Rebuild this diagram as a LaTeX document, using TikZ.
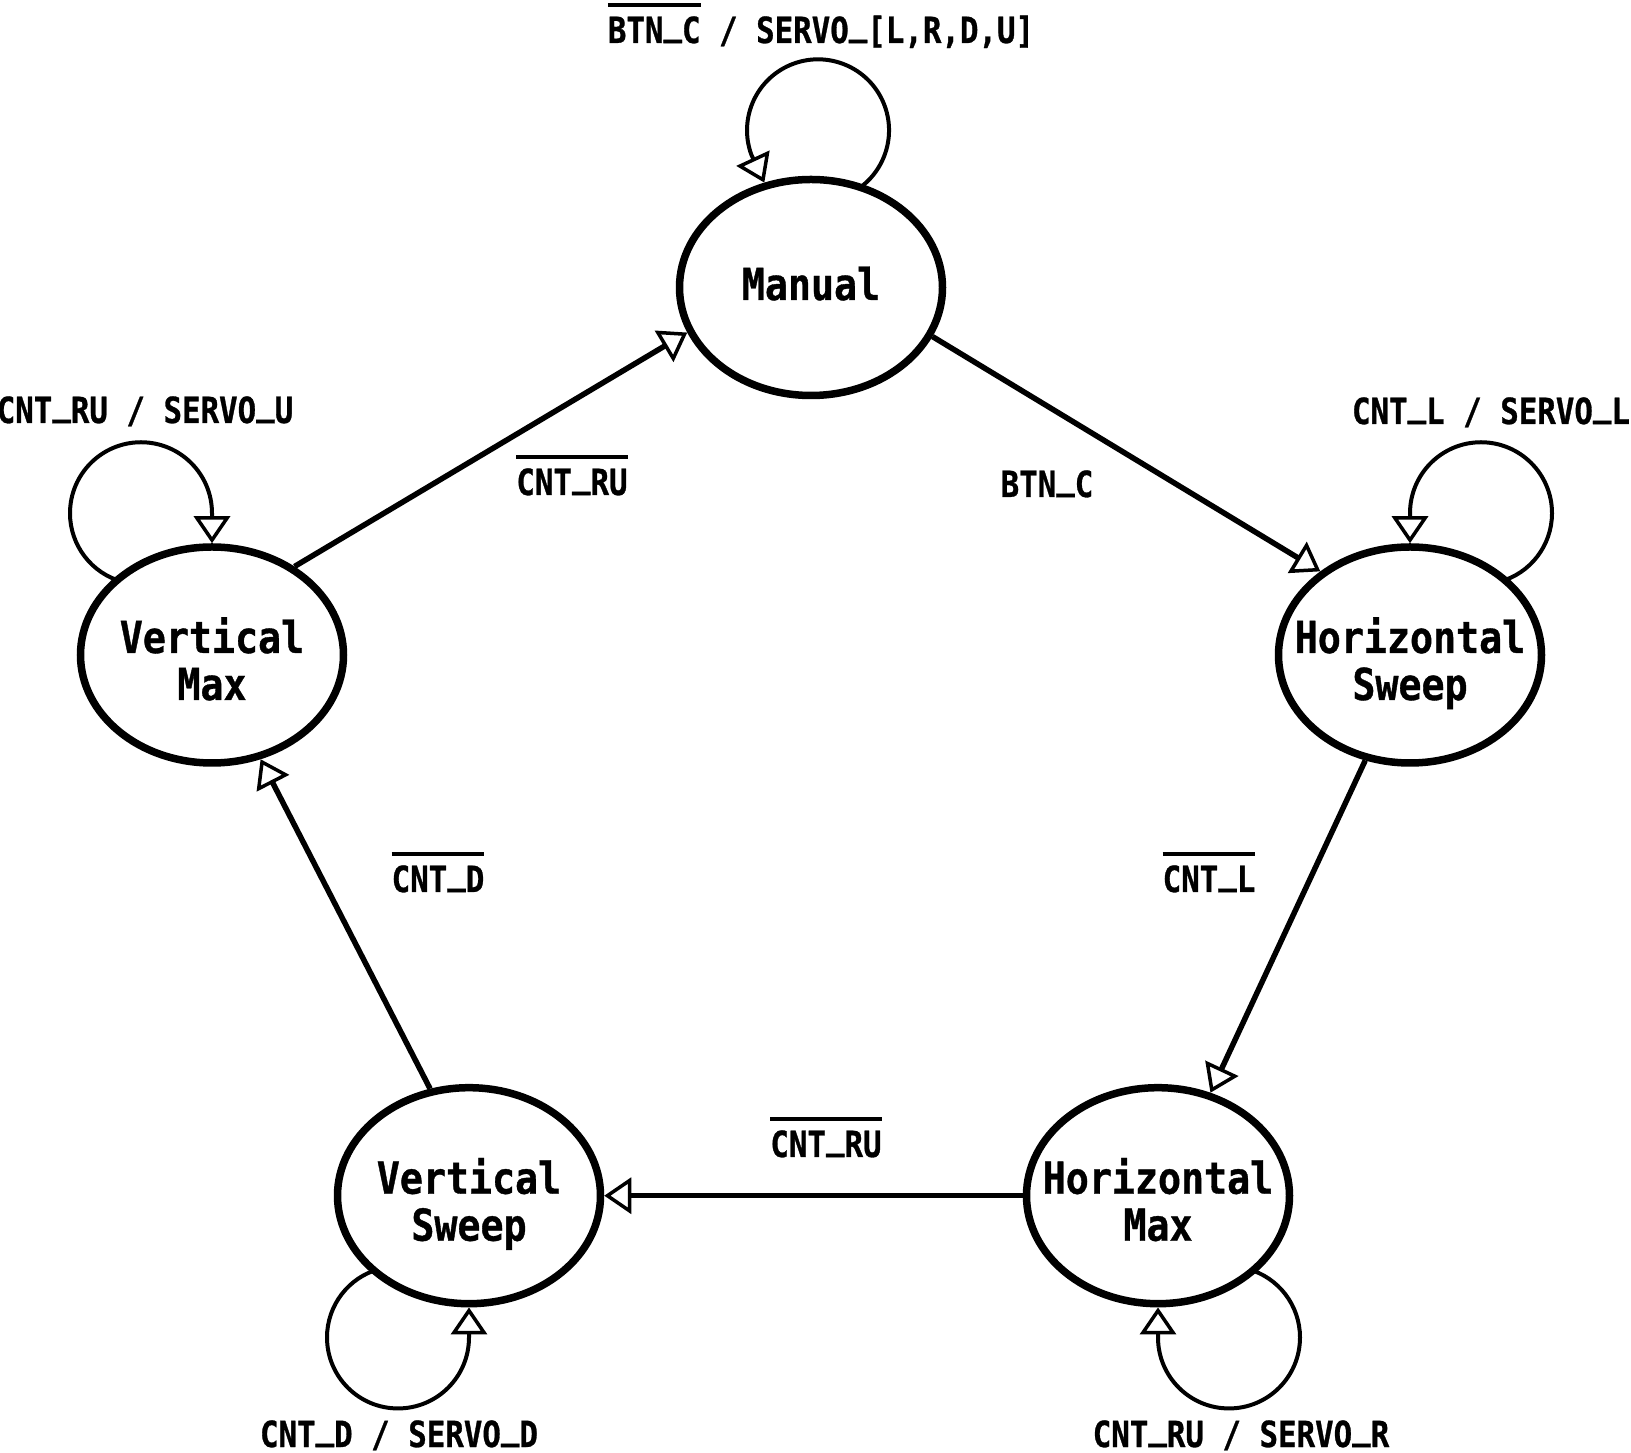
\documentclass[tikz,border=0pt]{standalone}
\usepackage{fontspec}
\usetikzlibrary{arrows.meta,shapes.geometric,backgrounds}
\newfontfamily\labfont{DejaVu Sans Mono}[FakeStretch=0.855,FakeBold=0.8]
\newfontfamily\statefont{DejaVu Sans Mono}[FakeStretch=0.87,FakeBold=0.8]
\newcommand{\ovl}[1]{\vbox{\hrule height 4.5pt\kern 9pt\hbox{#1}}}
\newcommand{\us}{\raisebox{0.23em}{\_}}
\newcommand{\stone}[1]{\makebox[0pt]{\raisebox{-12.5pt}[0pt][0pt]{#1}}}
\newcommand{\sttwo}[2]{\makebox[0pt]{\raisebox{-45pt}[0pt][0pt]{\begin{tabular}[b]{@{}c@{}}#1\\#2\end{tabular}}}}
\tikzset{
  stnode/.style={ellipse, draw, line width=7.5pt, fill=white, minimum width=263pt, minimum height=216pt, inner sep=0pt, font=\statefont\bfseries\fontsize{44}{47}\selectfont},
  lab/.style={anchor=base, inner sep=0pt, font=\labfont\bfseries\fontsize{36}{40}\selectfont},
  trans/.style={-{Triangle[open, length=27pt, width=36pt, line width=3.5pt]}, line width=5.5pt},
  selfloop/.style={{Triangle[open, length=27pt, width=36pt, line width=3.5pt]}-, line width=4pt},
}
\begin{document}
\begin{tikzpicture}[x=1pt,y=1pt]
\useasboundingbox (0,0) rectangle (1631,1452);
\node[stnode] (man) at (811,1164.5) {\stone{Manual}};
\node[stnode] (hs) at (1410,797) {\sttwo{Horizontal}{Sweep}};
\node[stnode] (vm) at (212,797) {\sttwo{Vertical}{Max}};
\node[stnode] (vs) at (469,256.3) {\sttwo{Vertical}{Sweep}};
\node[stnode] (hm) at (1158,256.3) {\sttwo{Horizontal}{Max}};
\begin{scope}[on background layer]
\draw[trans] (vm.47) -- (man.200);
\draw[trans] (man.338) -- (hs.137);
\draw[trans] (hs.247) -- (hm.63);
\draw[trans] (hm.west) -- (vs.east);
\draw[trans] (vs.110) -- (vm.295);
\draw[selfloop] (man.114) -- ++(-13,28) arc[start angle=200, end angle=-60, radius=71];
\draw[selfloop] (vm.north) -- ++(0,30) arc[start angle=0, end angle=255, radius=71];
\draw[selfloop] (hs.north) -- ++(0,30) arc[start angle=180, end angle=-75, radius=71];
\draw[selfloop] (vs.south) -- ++(0,-30) arc[start angle=0, end angle=-255, radius=71];
\draw[selfloop] (hm.south) -- ++(0,-30) arc[start angle=180, end angle=435, radius=71];
\end{scope}
\node[lab] (l1) at (821,1409) {\ovl{BTN\us C} / SERVO\us[L,R,D,U]};
\node[lab] (l2) at (145,1029) {CNT\us RU / SERVO\us U};
\node[lab] (l3) at (1491,1028) {CNT\us L / SERVO\us L};
\node[lab] (l4) at (572,957) {\ovl{CNT\us RU}};
\node[lab] (l5) at (1047,955) {BTN\us C};
\node[lab] (l6) at (438,560) {\ovl{CNT\us D}};
\node[lab] (l7) at (1209,560) {\ovl{CNT\us L}};
\node[lab] (l8) at (826,295) {\ovl{CNT\us RU}};
\node[lab] (l9) at (399,5) {CNT\us D / SERVO\us D};
\node[lab] (l10) at (1241,5) {CNT\us RU / SERVO\us R};
\end{tikzpicture}
\end{document}
